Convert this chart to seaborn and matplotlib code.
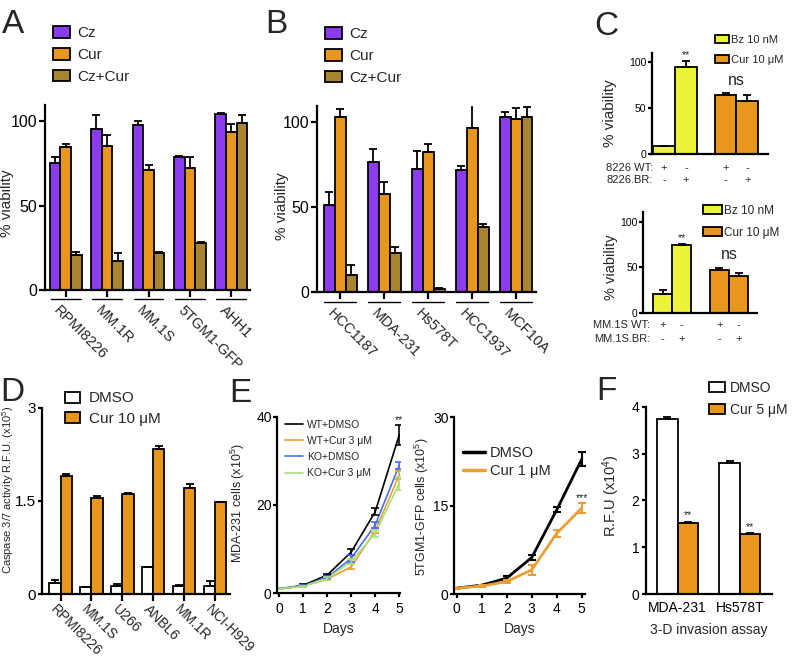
import numpy as np
import pandas as pd
import seaborn as sns
import matplotlib.pyplot as plt
import matplotlib.transforms as mtransforms
from matplotlib.patches import Patch
from matplotlib.lines import Line2D

sns.set_theme(style="ticks")
plt.rcParams['font.family'] = ['Liberation Sans', 'DejaVu Sans']
plt.rcParams['mathtext.default'] = 'regular'
plt.rcParams['axes.linewidth'] = 1.6

# ---------------- data ----------------
treat3 = ["Cz", "Cur", "Cz+Cur"]
col3 = ["#8B3CF0", "#E8961E", "#A8852E"]

a_cells = ["RPMI8226", "MM.1R", "MM.1S", "5TGM1-GFP", "AHH1"]
a_cz = [75, 95, 97.5, 79, 104]
a_cz_err = [4, 8.5, 2.5, 0.6, 0.6]
a_cur = [84.5, 85, 71, 72, 93.5]
a_cur_err = [2, 6.5, 3, 6.5, 5]
a_mix = [20.5, 17, 21.7, 27.8, 99]
a_mix_err = [2.2, 5, 0.5, 0.5, 4.3]

b_cells = ["HCC1187", "MDA-231", "Hs578T", "HCC1937", "MCF10A"]
b_cz = [51, 76, 72, 71.4, 102.5]
b_cz_err = [7.5, 8, 11, 2.3, 3]
b_cur = [103, 57.5, 82, 96.3, 101.8]
b_cur_err = [4.5, 7, 5, 13.3, 6]
b_mix = [10, 23, 1.8, 37.8, 102.5]
b_mix_err = [5.7, 3, 0.3, 2, 6.3]

c_drugs = ["Bz 10 nM", "Cur 10 μM"]
c_colors = ["#EDF23A", "#E8961E"]
c1_wt = [9, 64.4]
c1_wt_err = [0, 1.8]
c1_br = [94.5, 57.8]
c1_br_err = [6.5, 6.2]
c2_wt = [21.5, 46.9]
c2_wt_err = [4.3, 2.9]
c2_br = [74.5, 40.7]
c2_br_err = [1.1, 3.3]

d_cells = ["RPMI8226", "MM.1S", "U266", "ANBL6", "MM.1R", "NCI-H929"]
d_dmso = [0.17, 0.107, 0.13, 0.43, 0.13, 0.13]
d_dmso_err = [0.055, 0.01, 0.03, 0.01, 0.015, 0.085]
d_cur = [1.905, 1.546, 1.605, 2.33, 1.70, 1.476]
d_cur_err = [0.035, 0.035, 0.02, 0.05, 0.066, 0.01]

days = [0, 1, 2, 3, 4, 5]
e1_names = ["WT+DMSO", "WT+Cur 3 μM", "KO+DMSO", "KO+Cur 3 μM"]
e1_colors = ["#000000", "#E8A035", "#4A6CF0", "#A6E27C"]
e1_wt_dmso = [1.0, 1.8, 4.15, 9.35, 18.5, 35.9]
e1_wt_dmso_err = [0.1, 0.2, 0.3, 0.6, 0.8, 2.3]
e1_wt_cur = [1.0, 1.6, 3.2, 6.0, 14.2, 26.8]
e1_wt_cur_err = [0.1, 0.15, 0.3, 0.6, 0.6, 0.8]
e1_ko_dmso = [1.0, 1.7, 3.6, 7.9, 15.5, 29.0]
e1_ko_dmso_err = [0.1, 0.15, 0.3, 0.8, 0.6, 0.8]
e1_ko_cur = [1.0, 1.6, 3.4, 7.2, 13.6, 24.9]
e1_ko_cur_err = [0.1, 0.15, 0.3, 0.6, 0.8, 1.5]

e2_names = ["DMSO", "Cur 1 μM"]
e2_colors = ["#000000", "#E8A035"]
e2_dmso = [1.0, 1.5, 2.7, 6.2, 14.3, 22.9]
e2_dmso_err = [0.1, 0.1, 0.3, 0.5, 0.4, 1.2]
e2_cur = [1.0, 1.35, 2.1, 4.1, 10.3, 14.6]
e2_cur_err = [0.1, 0.1, 0.3, 0.8, 0.6, 0.8]

f_cells = ["MDA-231", "Hs578T"]
f_dmso = [3.73, 2.80]
f_dmso_err = [0.06, 0.05]
f_cur = [1.51, 1.28]
f_cur_err = [0.03, 0.02]

# ---------------- helpers ----------------
W, H = 793, 660
fig = plt.figure(figsize=(W / 100, H / 100), dpi=100)


def rect(l, r, t, b):
    return [l / W, 1 - b / H, (r - l) / W, (b - t) / H]


def style(ax, fs, length=4, pad=2):
    sns.despine(ax=ax)
    ax.set_facecolor('none')
    ax.tick_params(width=1.6, length=length, labelsize=fs, color='black', labelcolor='black', pad=pad)
    for s in ax.spines.values():
        s.set_color('black')


def bars(ax, cats, names, vals, errs, colors, width, recolor=None):
    rows = []
    for n, v in zip(names, vals):
        for c, y in zip(cats, v):
            rows.append((c, n, y))
    df = pd.DataFrame(rows, columns=['cell', 'treat', 'value'])
    sns.barplot(data=df, x='cell', y='value', hue='treat', palette=colors, width=width,
                edgecolor='black', linewidth=1.3, errorbar=None, saturation=1,
                legend=False, ax=ax)
    for cont, err in zip(ax.containers, errs):
        for k, (bar, e) in enumerate(zip(cont, err)):
            if recolor is not None:
                bar.set_facecolor(recolor[k])
            ax.errorbar(bar.get_x() + bar.get_width() / 2, bar.get_height(), yerr=[[0], [e]],
                        fmt='none', ecolor='black', elinewidth=1.3, capsize=3, capthick=1.3)
    ax.set_xlabel('')
    ax.set_ylabel('')


def box_legend(ax, labels, colors, anchor, fs, hl, hh, ls, tp):
    handles = [Patch(facecolor=c, edgecolor='black', linewidth=1.3) for c in colors]
    ax.legend(handles, labels, loc='upper left', bbox_to_anchor=(anchor[0] / W, 1 - anchor[1] / H),
              bbox_transform=fig.transFigure, frameon=False, fontsize=fs, handlelength=hl,
              handleheight=hh, labelspacing=ls, handletextpad=tp, borderpad=0, borderaxespad=0)


def rot_labels(ax, labels, fs, dx, dy):
    tr = mtransforms.blended_transform_factory(ax.transData, ax.transAxes) + \
        mtransforms.ScaledTranslation(dx / 100, -dy / 100, fig.dpi_scale_trans)
    ax.set_xticklabels([])
    for i, lab in enumerate(labels):
        ax.text(i, 0, lab, transform=tr, rotation=-45, rotation_mode='anchor',
                ha='left', va='top', fontsize=fs)


def underline(ax, n, half, y):
    tr = mtransforms.blended_transform_factory(ax.transData, ax.transAxes)
    for i in range(n):
        ax.plot([i - half, i + half], [y, y], color='black', lw=1.0, transform=tr, clip_on=False)


def star(ax, x, y, s, fs=7, dy=1):
    ax.annotate(s, (x, y), xytext=(0, dy), textcoords='offset points', ha='center',
                va='bottom', fontsize=fs, annotation_clip=False)


def letter(s, x, y):
    fig.text(x / W, 1 - y / H, s, fontsize=24, va='baseline', ha='left')


# ---------------- panel A ----------------
ax = fig.add_axes(rect(45, 250, 105, 290))
bars(ax, a_cells, treat3, [a_cz, a_cur, a_mix], [a_cz_err, a_cur_err, a_mix_err], col3, 0.77)
style(ax, 11.5, length=4, pad=1.5)
ax.set_ylim(0, 109.5)
ax.set_xlim(-0.5, 4.45)
ax.set_yticks([0, 50, 100])
ax.tick_params(axis='x', length=5)
ax.set_ylabel('% viability', fontsize=11)
ax.yaxis.set_label_coords(-0.151, 0.47)
rot_labels(ax, a_cells, 10.5, -5, 13)
underline(ax, len(a_cells), 0.36, -0.049)
box_legend(ax, treat3, col3, (53, 26.4), 11, 1.1, 0.78, 0.5, 0.52)
letter('A', 2, 33)

# ---------------- panel B ----------------
ax = fig.add_axes(rect(317, 536, 106, 291.7))
bars(ax, b_cells, treat3, [b_cz, b_cur, b_mix], [b_cz_err, b_cur_err, b_mix_err], col3, 0.74)
style(ax, 11.5, length=4, pad=1.5)
ax.set_ylim(0, 109.2)
ax.set_xlim(-0.53, 4.45)
ax.set_yticks([0, 50, 100])
ax.tick_params(axis='x', length=5)
ax.set_ylabel('% viability', fontsize=11)
ax.yaxis.set_label_coords(-0.13, 0.458)
rot_labels(ax, b_cells, 10.5, -6, 15)
underline(ax, len(b_cells), 0.36, -0.054)
box_legend(ax, treat3, col3, (325, 27.4), 11, 1.1, 0.78, 0.5, 0.52)
letter('B', 265, 33)

# ---------------- panel C ----------------
for (top, bot, l, r, wt, wt_err, br, br_err, rows, names, leg, lab_x, ylc, lfs) in [
        (53.3, 154, 651.7, 767.7, c1_wt, c1_wt_err, c1_br, c1_br_err, (-0.142, -0.258),
         ("8226 WT:", "8226.BR:"), ((715, 34.8), 8, 1.25, 0.8, 0.9, 0.2), 0.011,
         (-0.30, 0.41), 11),
        (211.7, 313.3, 643.3, 756.7, c2_wt, c2_wt_err, c2_br, c2_br_err, (-0.115, -0.256),
         ("MM.1S WT:", "MM.1S.BR:"), ((703, 204.5), 8.5, 1.6, 0.9, 0.85, 0.2), 0.059,
         (-0.223, 0.45), 10.5)]:
    ax = fig.add_axes(rect(l, r, top, bot))
    bars(ax, c_drugs, ["WT", "BR"], [wt, br], [wt_err, br_err], ["#ffffff", "#ffffff"],
         0.71 if top < 100 else 0.68, recolor=c_colors)
    style(ax, 7.5, length=3, pad=1)
    ax.set_ylim(0, 109.8 if top < 100 else 110.8)
    if top < 100:
        ax.set_xlim(-0.38, 1.51)
    else:
        ax.set_xlim(-0.51, 1.49)
    ax.set_yticks([0, 50, 100])
    ax.set_xticks([])
    ax.set_ylabel('% viability', fontsize=lfs)
    ax.yaxis.set_label_coords(*ylc)
    tr = mtransforms.blended_transform_factory(ax.transData, ax.transAxes)
    tra = ax.transAxes
    ax.text(lab_x, rows[0], names[0], transform=tra, ha='right', va='center', fontsize=8)
    ax.text(lab_x, rows[1], names[1], transform=tra, ha='right', va='center', fontsize=8)
    wt_bars, br_bars = ax.containers[0], ax.containers[1]
    for b in wt_bars:
        xc = b.get_x() + b.get_width() / 2
        ax.text(xc, rows[0], '+', transform=tr, ha='center', va='center', fontsize=8)
        ax.text(xc, rows[1], '-', transform=tr, ha='center', va='center', fontsize=8)
    for b in br_bars:
        xc = b.get_x() + b.get_width() / 2
        ax.text(xc, rows[0], '-', transform=tr, ha='center', va='center', fontsize=8)
        ax.text(xc, rows[1], '+', transform=tr, ha='center', va='center', fontsize=8)
    bz_br = br_bars[0]
    star(ax, bz_br.get_x() + bz_br.get_width() / 2, br[0] + br_err[0], '**', 7.5, 1)
    ns_top = max(wt[1] + wt_err[1], br[1] + br_err[1])
    xc = (wt_bars[1].get_x() + br_bars[1].get_x() + br_bars[1].get_width()) / 2
    star(ax, xc, ns_top, 'ns', 11.5, 4)
    box_legend(ax, c_drugs, c_colors, leg[0], leg[1], leg[2], leg[3], leg[4], leg[5])
letter('C', 594, 35)

# ---------------- panel D ----------------
ax = fig.add_axes(rect(41.7, 230, 407.7, 594))
bars(ax, d_cells, ["DMSO", "Cur 10 μM"], [d_dmso, d_cur], [d_dmso_err, d_cur_err],
     ["#ffffff", "#E8961E"], 0.72)
style(ax, 11, length=3, pad=1)
ax.set_ylim(0, 3)
ax.set_xlim(-0.61, 5.48)
ax.set_yticks([0, 1.5, 3])
ax.set_yticklabels(['0', '1.5', '3'])
ax.tick_params(axis='x', length=5)
ax.set_ylabel('Caspase 3/7 activity R.F.U. (x10$^5$)', fontsize=8)
ax.yaxis.set_label_coords(-0.135, 0.558)
rot_labels(ax, d_cells, 10, -3, 8)
box_legend(ax, ["DMSO", "Cur 10 μM"], ["#ffffff", "#E8961E"], (65, 391.5), 11, 1.0, 0.7, 0.4, 0.55)
letter('D', 0, 401)

# ---------------- panel E ----------------
ax = fig.add_axes(rect(277.3, 400, 416.7, 593.3))
e1_vals = [e1_wt_dmso, e1_wt_cur, e1_ko_dmso, e1_ko_cur]
e1_errs = [e1_wt_dmso_err, e1_wt_cur_err, e1_ko_dmso_err, e1_ko_cur_err]
df = pd.DataFrame([(d, n, v) for n, vals in zip(e1_names, e1_vals) for d, v in zip(days, vals)],
                  columns=['day', 'group', 'cells'])
sns.lineplot(data=df, x='day', y='cells', hue='group', palette=e1_colors, errorbar=None,
             lw=1.2, legend=False, ax=ax)
for vals, errs, c in zip(e1_vals, e1_errs, e1_colors):
    ax.errorbar(days, vals, yerr=errs, fmt='none', ecolor=c, elinewidth=1.2, capsize=3, capthick=1.2)
style(ax, 10, length=3, pad=1)
ax.set_ylim(0, 40)
ax.set_xlim(-0.08, 5.03)
ax.set_xticks(days)
ax.set_yticks([0, 20, 40])
ax.tick_params(axis='x', pad=3)
ax.set_xlabel('Days', fontsize=10)
ax.xaxis.set_label_coords(0.5, -0.161)
ax.set_ylabel('MDA-231 cells (x10$^5$)', fontsize=9)
ax.yaxis.set_label_coords(-0.25, 0.51)
star(ax, days[-1], e1_wt_dmso[-1] + e1_wt_dmso_err[-1], '**', 7.5, 0)
ax.legend([Line2D([], [], color=c, lw=1.2) for c in e1_colors], e1_names, loc='upper left',
          bbox_to_anchor=(285 / W, 1 - 419.5 / H), bbox_transform=fig.transFigure, frameon=False,
          fontsize=7.5, handlelength=1.75, labelspacing=0.6, handletextpad=0.35, borderpad=0,
          borderaxespad=0)

ax = fig.add_axes(rect(454, 585, 417.3, 594))
e2_vals = [e2_dmso, e2_cur]
e2_errs = [e2_dmso_err, e2_cur_err]
df = pd.DataFrame([(d, n, v) for n, vals in zip(e2_names, e2_vals) for d, v in zip(days, vals)],
                  columns=['day', 'group', 'cells'])
sns.lineplot(data=df, x='day', y='cells', hue='group', palette=e2_colors, errorbar=None,
             lw=2.0, legend=False, ax=ax)
for vals, errs, c in zip(e2_vals, e2_errs, e2_colors):
    ax.errorbar(days, vals, yerr=errs, fmt='none', ecolor=c, elinewidth=1.5, capsize=3, capthick=1.5)
style(ax, 10, length=3, pad=1)
ax.set_ylim(0, 30)
ax.set_xlim(-0.11, 5.13)
ax.set_xticks(days)
ax.set_yticks([0, 15, 30])
ax.tick_params(axis='x', pad=3)
ax.set_xlabel('Days', fontsize=10)
ax.xaxis.set_label_coords(0.5, -0.157)
ax.set_ylabel('5TGM1-GFP cells (x10$^5$)', fontsize=9)
ax.yaxis.set_label_coords(-0.172, 0.494)
star(ax, days[-1], e2_cur[-1] + e2_cur_err[-1], '***', 7.5, 0)
ax.legend([Line2D([], [], color=c, lw=2.5) for c in e2_colors], e2_names, loc='upper left',
          bbox_to_anchor=(463 / W, 1 - 446 / H), bbox_transform=fig.transFigure, frameon=False,
          fontsize=10.5, handlelength=1.5, labelspacing=0.28, handletextpad=0.36, borderpad=0,
          borderaxespad=0)
letter('E', 229, 402)

# ---------------- panel F ----------------
ax = fig.add_axes(rect(645.7, 771.7, 406.7, 594))
bars(ax, f_cells, ["DMSO", "Cur 5 μM"], [f_dmso, f_cur], [f_dmso_err, f_cur_err],
     ["#ffffff", "#E8961E"], 0.66)
style(ax, 10, length=3, pad=1.5)
ax.set_ylim(0, 4)
ax.set_xlim(-0.51, 1.51)
ax.set_yticks([0, 1, 2, 3, 4])
ax.tick_params(axis='x', length=0, pad=5)
ax.set_xlabel('3-D invasion assay', fontsize=10)
ax.xaxis.set_label_coords(0.5, -0.156)
ax.set_ylabel('R.F.U (x10$^4$)', fontsize=10.5)
ax.yaxis.set_label_coords(-0.188, 0.523)
for b, v, e in zip(ax.containers[1], f_cur, f_cur_err):
    star(ax, b.get_x() + b.get_width() / 2, v + e, '**', 7.5, 1)
box_legend(ax, ["DMSO", "Cur 5 μM"], ["#ffffff", "#E8961E"], (709, 381), 10, 1.15, 0.72, 0.58, 0.36)
letter('F', 596, 400)

fig.savefig('out.png', dpi=100)
